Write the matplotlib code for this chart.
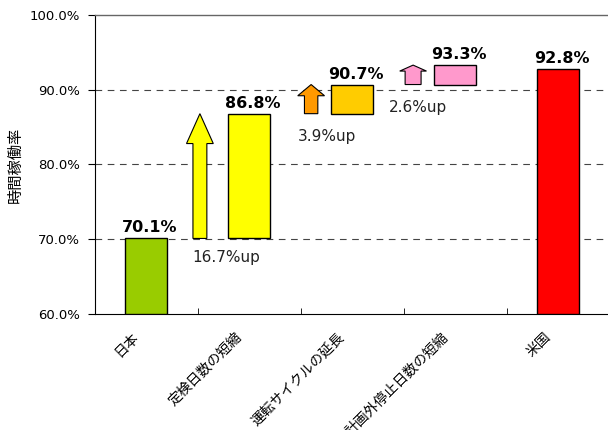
import matplotlib
matplotlib.use('Agg')
import matplotlib.pyplot as plt
import matplotlib.transforms as mtransforms
import numpy as np

plt.rcParams['font.family'] = ['DejaVu Sans', 'Noto Sans CJK JP']

categories = ['日本', '定検日数の短縮', '運転サイクルの延長', '計画外停止日数の短縮', '米国']
japan = 70.1
increments = [16.7, 3.9, 2.6]
usa = 92.8
yticks = [60, 70, 80, 90, 100]

bar_colors = ['#99CC00', '#FFFF00', '#FFCC00', '#FF99CC', '#FF0000']
arrow_colors = ['#FFFF00', '#FF9900', '#FF99CC']

# waterfall levels
levels = np.concatenate([[japan], japan + np.cumsum(increments)])
bottoms = [60] + list(levels[:-1]) + [60]
tops = list(levels) + [usa]

fig = plt.figure(figsize=(6.08, 4.30), dpi=100)
ax = fig.add_axes([0.156, 0.27, 0.847, 0.695])

x = np.arange(len(categories))
heights = [t - b for t, b in zip(tops, bottoms)]
ax.bar(x, heights, bottom=bottoms, width=0.41, color=bar_colors,
       edgecolor='black', linewidth=1, zorder=3)

# value labels above bars
for xi, t in zip(x, tops):
    ax.text(xi + 0.03, t + 0.4, '{:.1f}%'.format(t), ha='center', va='bottom',
            fontsize=11.5, fontweight='bold', zorder=4)

# arrows for the increments
arrow_x = [0.52, 1.60, 2.59]
head_len = [4.0, 1.5, 0.8]
shaft_w = [0.135, 0.13, 0.155]
up_pos = [(0.78, 67.5), (1.75, 83.8), (2.64, 87.6)]
for i, inc in enumerate(increments):
    ax.arrow(arrow_x[i], levels[i], 0, inc, width=shaft_w[i], head_width=0.26,
             head_length=head_len[i], length_includes_head=True,
             facecolor=arrow_colors[i], edgecolor='black', linewidth=0.8,
             zorder=3)
    ax.text(up_pos[i][0], up_pos[i][1], '{:.1f}%up'.format(inc),
            ha='center', va='center', fontsize=11, color='#222222')

ax.set_xlim(-0.5, len(categories) - 0.5)
ax.set_ylim(60, 100)
ax.set_yticks(yticks)
ax.set_yticklabels(['{:.1f}%'.format(v) for v in yticks], fontsize=9.5)
ax.set_ylabel('時間稼働率', fontsize=11)
ax.yaxis.set_label_coords(-0.14, 0.5)

ax.set_xticks(x)
ax.set_xticklabels(categories, rotation=45, ha='right', va='center',
                   rotation_mode='anchor', fontsize=10)
ax.tick_params(axis='x', length=0, pad=12)
shift = mtransforms.ScaledTranslation(-10 / 100, -4 / 100, fig.dpi_scale_trans)
for lbl in ax.get_xticklabels():
    lbl.set_transform(lbl.get_transform() + shift)
ax.set_xticks(np.arange(len(categories) - 1) + 0.5, minor=True)
ax.tick_params(axis='x', which='minor', direction='in', length=4)
ax.tick_params(axis='y', direction='out', length=5, pad=6)

for v in [70, 80, 90]:
    ax.axhline(v, color='#444444', linestyle=(0, (6, 5)), linewidth=0.8,
               zorder=1)

ax.spines['right'].set_visible(False)
ax.spines['top'].set_color('#666666')
ax.spines['top'].set_linewidth(1)

fig.savefig('out.png', dpi=100)
